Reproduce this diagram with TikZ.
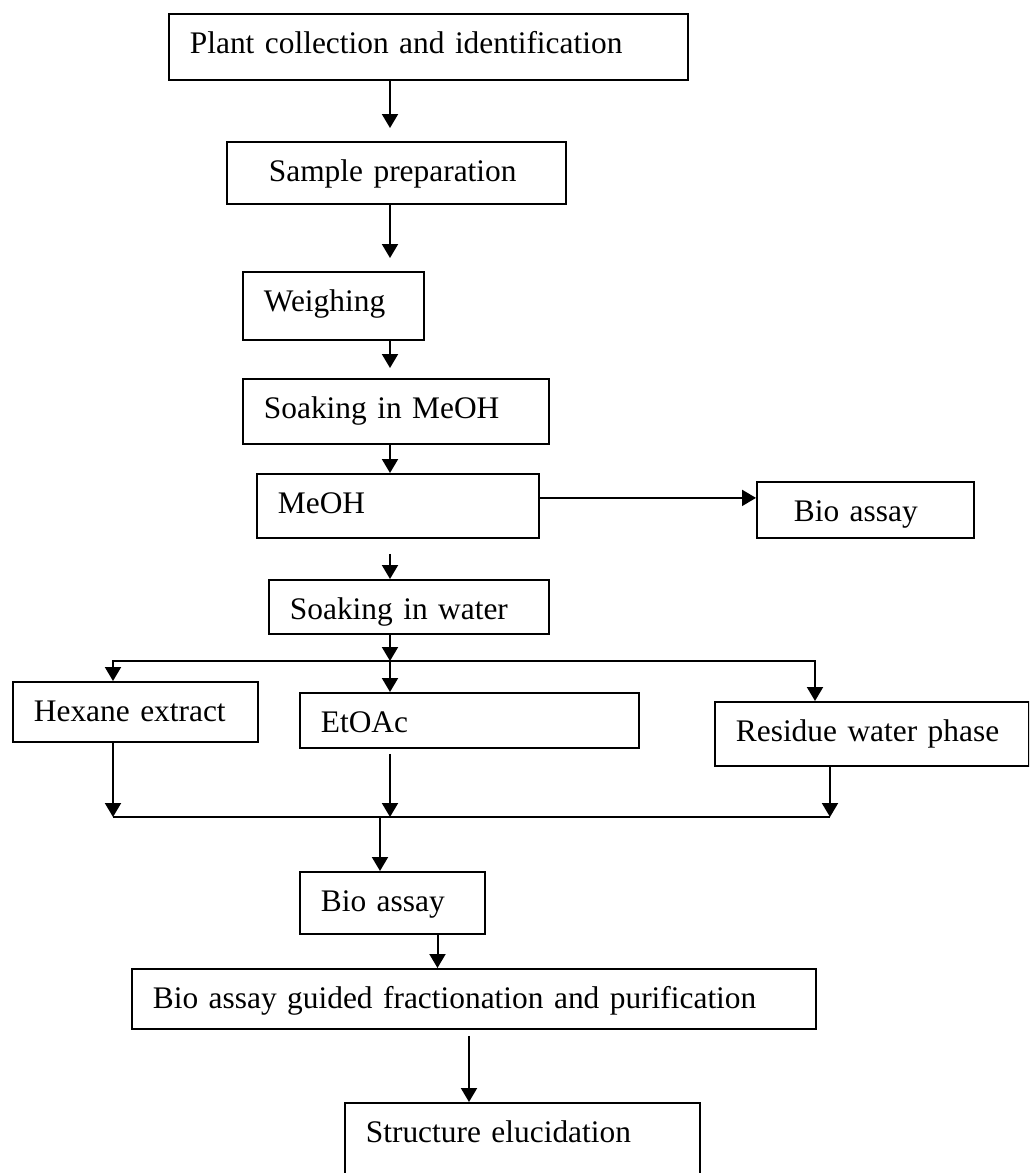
\documentclass[tikz,border=0pt]{standalone}
\usepackage{fontspec}
\setmainfont{Liberation Serif}
\usepackage{tikz}
\usetikzlibrary{arrows.meta,calc}

\begin{document}
\begin{tikzpicture}[x=0.5pt, y=-0.5pt,
    box/.style={draw, line width=0.9pt, rectangle, anchor=north west, align=left,
        inner xsep=10.5pt, inner ysep=0pt, text height=20pt,
        font=\fontsize{15.7}{19}\selectfont},
    arr/.style={line width=1pt, -{Triangle[length=7pt, width=8pt]}},
    link/.style={line width=1pt}]
    \useasboundingbox (0,0) rectangle (1029,1173);
    \clip (0,0) rectangle (1029,1173);

    % Main column
    \node[box, text width=238.5pt, text depth=13pt] (plant) at (168,13) {Plant collection and identification};
    \node[box, inner xsep=21pt, text width=127.5pt, text depth=11pt] (sample) at (226,141) {Sample preparation};
    \node[box, text width=69.5pt, text depth=14pt] (weigh) at (242,271) {Weighing};
    \node[box, text width=132pt, text depth=12.5pt] (soakm) at (242,378) {Soaking in MeOH};
    \node[box, text width=120pt, text depth=12pt] (meoh) at (256,473) {MeOH};
    \node[box, inner xsep=18.5pt, text width=71.5pt, text depth=8pt] (bioR) at (756,481) {Bio assay};
    \node[box, text width=119pt, text depth=7pt] (soakw) at (268,579) {Soaking in water};

    % Three phases
    \node[box, text width=101.5pt, text depth=10pt] (hexane) at (12,681) {Hexane extract};
    \node[box, text width=148.5pt, text depth=7.5pt] (etoac) at (299,692) {EtOAc};
    \node[box, text width=136pt, text depth=12pt] (residue) at (714,701) {Residue water phase};

    % Bottom part
    \node[box, text width=71.5pt, text depth=11pt] (bio) at (299,871) {Bio assay};
    \node[box, text width=321pt, text depth=10pt] (frac) at (131,968) {Bio assay guided fractionation and purification};
    \node[box, text width=156.5pt, text depth=29pt] (struct) at (344,1102) {Structure elucidation};

    % Guide points
    \coordinate (spine) at (390,0);
    \coordinate (hx) at (113,0);
    \coordinate (rx) at (815,0);
    \coordinate (rx2) at (830,0);
    \coordinate (mx) at (380,0);
    \coordinate (fx) at (437.5,0);
    \coordinate (sx) at (469,0);
    \coordinate (split) at (390,661);
    \coordinate (merge) at (390,817);

    % Arrows
    \draw[arr, shorten >=6.5pt] (plant.south -| spine) -- (sample.north -| spine);
    \draw[arr, shorten >=6.5pt] (sample.south -| spine) -- (weigh.north -| spine);
    \draw[arr, shorten >=5pt] (weigh.south -| spine) -- (soakm.north -| spine);
    \draw[arr] (soakm.south -| spine) -- (meoh.north -| spine);
    \draw[arr] ([yshift=4pt]meoh.east) -- ([yshift=4pt]meoh.east -| bioR.west);
    \draw[arr, shorten <=7.5pt] (meoh.south -| spine) -- (soakw.north -| spine);
    \draw[arr] (soakw.south -| spine) -- (split);

    \draw[arr] (split) -| (hexane.north -| hx);
    \draw[arr] (split) -- (etoac.north -| spine);
    \draw[arr] (split) -| (residue.north -| rx);

    \draw[arr] (hexane.south -| hx) -- (hx |- merge);
    \draw[arr, shorten <=2.5pt] (etoac.south -| spine) -- (merge);
    \draw[arr] (residue.south -| rx2) -- (rx2 |- merge);
    \draw[link] (hx |- merge) -- (rx2 |- merge);

    \draw[arr] (mx |- merge) -- (bio.north -| mx);
    \draw[arr] (bio.south -| fx) -- (frac.north -| fx);
    \draw[arr, shorten <=3pt] (frac.south -| sx) -- (struct.north -| sx);
\end{tikzpicture}
\end{document}
